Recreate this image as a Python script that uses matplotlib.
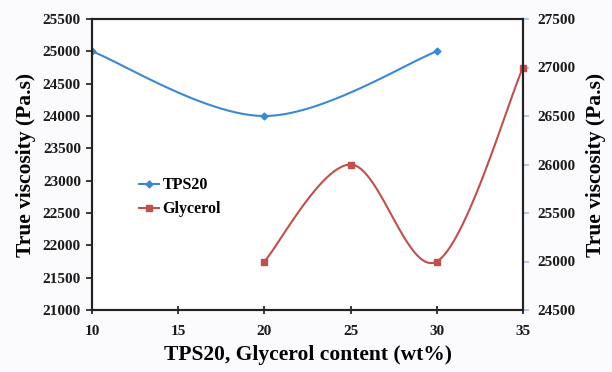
import numpy as np
import matplotlib
matplotlib.use("Agg")
import matplotlib.pyplot as plt

# dane
tps_x = [10, 20, 30]
tps_y = [25000, 24000, 25000]
gly_x = [20, 25, 30, 35]
gly_y = [25000, 26000, 25000, 27000]

x_ticks = [10, 15, 20, 25, 30, 35]
left_ticks = list(range(21000, 25501, 500))
right_ticks = list(range(24500, 27501, 500))

BLUE = "#3d88d2"
RED = "#c0504d"


def smooth(xs, ys, n=40):
    """Wygładzenie typu Catmull-Rom (jak linie wygładzone w Excelu)."""
    p = np.column_stack([xs, ys]).astype(float)
    p = np.vstack([p[0], p, p[-1]])
    out = []
    for i in range(1, len(p) - 2):
        p0, p1, p2, p3 = p[i - 1], p[i], p[i + 1], p[i + 2]
        c1 = p1 + (p2 - p0) / 6
        c2 = p2 - (p3 - p1) / 6
        t = np.linspace(0, 1, n)[:, None]
        seg = ((1 - t) ** 3) * p1 + 3 * ((1 - t) ** 2) * t * c1 \
            + 3 * (1 - t) * t ** 2 * c2 + t ** 3 * p2
        out.append(seg)
    seg = np.vstack(out)
    return seg[:, 0], seg[:, 1]


plt.rcParams["font.family"] = ["Liberation Serif", "DejaVu Serif"]
plt.rcParams["font.weight"] = "bold"

fig = plt.figure(figsize=(6.12, 3.72), dpi=100)
fig.patch.set_facecolor("#fbfbfd")
ax = fig.add_axes([92 / 612, 1 - 310 / 372, 431 / 612, 291 / 372])
ax.set_facecolor("white")
ax2 = ax.twinx()

sx, sy = smooth(tps_x, tps_y)
ax.plot(sx, sy, color=BLUE, lw=1.5)
ax.plot(tps_x, tps_y, ls="none", marker="D", ms=3.5, color=BLUE)
l1, = ax.plot([], [], color=BLUE, lw=1.5, marker="D", ms=3.5, label="TPS20")

gx, gy = smooth(gly_x, gly_y)
ax2.plot(gx, gy, color=RED, lw=1.5, clip_on=False)
ax2.plot(gly_x, gly_y, ls="none", marker="s", ms=5, color=RED, clip_on=False)
l2, = ax2.plot([], [], color=RED, lw=1.5, marker="s", ms=5, label="Glycerol")

ax.set_xlim(10, 35)
ax.set_ylim(21000, 25500)
ax2.set_ylim(24500, 27500)
ax.set_xticks(x_ticks)
ax.set_yticks(left_ticks)
ax2.set_yticks(right_ticks)

for a in (ax, ax2):
    for s in a.spines.values():
        s.set_linewidth(1.5)
        s.set_color("#222222")
    a.tick_params(labelsize=11, width=1.2, length=4, colors="#1a1a1a")
ax.tick_params(axis="x", direction="inout", length=6, pad=8)
ax.tick_params(axis="y", direction="out", pad=4)
ax2.tick_params(axis="y", direction="out", color="#9ec3e6", pad=6)

ax.set_xlabel("TPS20, Glycerol content (wt%)", fontsize=15.5, fontweight="bold",
              labelpad=5)
ax.set_ylabel("True viscosity (Pa.s)", fontsize=15.5, fontweight="bold", labelpad=5)
ax2.set_ylabel("True viscosity (Pa.s)", fontsize=15.5, fontweight="bold", labelpad=8)

ax.legend(handles=[l1, l2], loc="upper left", bbox_to_anchor=(0.075, 0.505),
          frameon=False, fontsize=11.5, handlelength=1.3, handletextpad=0.2,
          labelspacing=0.5)

fig.savefig("out.png", dpi=100, facecolor=fig.get_facecolor())
